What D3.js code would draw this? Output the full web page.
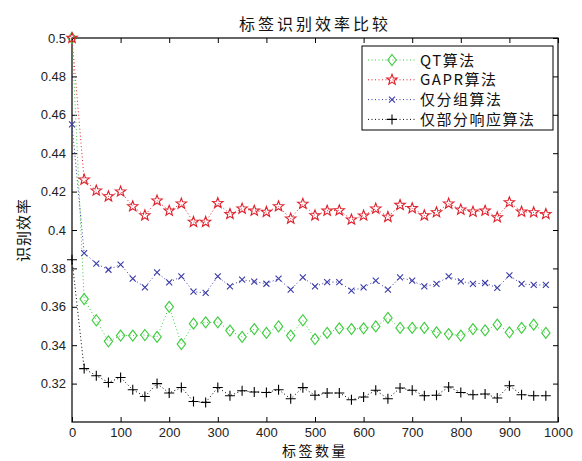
<!DOCTYPE html>
<html>
<head>
<meta charset="utf-8">
<script src="https://cdn.jsdelivr.net/npm/d3@7"></script>
<style>
  body { margin: 0; background: #fff; }
  text { font-family: "Liberation Sans", Arial, "Noto Sans CJK SC", sans-serif; }
  .cn { font-family: "Noto Sans CJK SC", sans-serif; }
</style>
</head>
<body>
<script>
// x positions (tag count)
var tagCounts = [0, 25, 50, 75, 100, 125, 150, 175, 200, 225, 250, 275, 300, 325, 350, 375, 400, 425, 450, 475,
                 500, 525, 550, 575, 600, 625, 650, 675, 700, 725, 750, 775, 800, 825, 850, 875, 900, 925, 950, 975];

var qtVals = [0.5, 0.364, 0.353, 0.342, 0.345, 0.345, 0.3453, 0.3443, 0.36, 0.3406, 0.3512, 0.3519, 0.3519, 0.3476, 0.3443, 0.3484, 0.3464, 0.3498, 0.345, 0.353,
              0.3432, 0.3464, 0.3488, 0.3484, 0.3488, 0.3498, 0.3542, 0.349, 0.349, 0.349, 0.3467, 0.3458, 0.345, 0.3484, 0.3477, 0.3507, 0.3467, 0.349, 0.3507, 0.3464];

var gaprVals = [0.5, 0.4262, 0.4205, 0.4175, 0.42, 0.4123, 0.4076, 0.4153, 0.41, 0.4137, 0.4042, 0.4042, 0.414, 0.4083, 0.4111, 0.41, 0.4094, 0.4123, 0.4059, 0.4136,
                0.4076, 0.41, 0.4102, 0.4054, 0.4075, 0.4111, 0.4068, 0.413, 0.4113, 0.4076, 0.4092, 0.4137, 0.4106, 0.4095, 0.41, 0.4066, 0.4144, 0.4095, 0.4092, 0.4083];

var groupVals = [0.455, 0.388, 0.3825, 0.3793, 0.382, 0.3747, 0.3701, 0.3779, 0.3727, 0.3758, 0.3679, 0.3672, 0.3758, 0.3706, 0.3741, 0.3731, 0.372, 0.3747, 0.3689, 0.3753,
                 0.3706, 0.3729, 0.3729, 0.3684, 0.3701, 0.3736, 0.3689, 0.3753, 0.3736, 0.3706, 0.3719, 0.3758, 0.3733, 0.3719, 0.3724, 0.3698, 0.3764, 0.3719, 0.3714, 0.3714];

var partialVals = [0.3845, 0.3278, 0.3241, 0.3206, 0.3232, 0.3168, 0.3133, 0.32, 0.3151, 0.318, 0.3107, 0.3102, 0.318, 0.3137, 0.3163, 0.3156, 0.3154, 0.3168, 0.3121, 0.3179,
                   0.3139, 0.3151, 0.3151, 0.3116, 0.313, 0.3165, 0.3121, 0.3177, 0.3165, 0.3137, 0.3139, 0.3182, 0.3154, 0.3142, 0.3146, 0.3125, 0.3189, 0.3142, 0.3137, 0.3137];

var seriesNames = ["QT算法", "GAPR算法", "仅分组算法", "仅部分响应算法"];
var seriesColors = ["#3ccc3c", "#e0202c", "#3a3aa8", "#000000"];
var seriesMarkers = ["diamond", "star", "cross", "plus"];
var xTicks = [0, 100, 200, 300, 400, 500, 600, 700, 800, 900, 1000];
var yTicks = [0.32, 0.34, 0.36, 0.38, 0.4, 0.42, 0.44, 0.46, 0.48, 0.5];

var W = 582, H = 461;
var margin = {left: 72, top: 38, right: 24, bottom: 39};
var pw = W - margin.left - margin.right, ph = H - margin.top - margin.bottom;

var svg = d3.select("body").append("svg").attr("width", W).attr("height", H);

var x = d3.scaleLinear().domain([0, 1000]).range([0, pw]);
var y = d3.scaleLinear().domain([0.3, 0.5]).range([ph, 0]);

var g = svg.append("g").attr("transform", "translate(" + margin.left + "," + margin.top + ")");

// marker paths
function markerPath(type) {
  if (type == "diamond") return "M0,-5.5L4.2,0L0,5.5L-4.2,0Z";
  if (type == "cross") return "M-3,-3L3,3M-3,3L3,-3";
  if (type == "plus") return "M-5,0L5,0M0,-5L0,5";
  // pentagram outline
  var pts = [];
  for (var i = 0; i < 10; i++) {
    var r = i % 2 == 0 ? 5.5 : 2.3;
    var a = -Math.PI / 2 + i * Math.PI / 5;
    pts.push([r * Math.cos(a), r * Math.sin(a)]);
  }
  return "M" + pts.map(function(p){ return p[0].toFixed(2) + "," + p[1].toFixed(2); }).join("L") + "Z";
}

// axes, MATLAB style: inward ticks on all four sides
var fmt = function(d){ return String(+d.toFixed(2)); };
g.append("g").attr("transform", "translate(0," + ph + ")")
  .call(d3.axisBottom(x).tickValues(xTicks).tickSizeInner(-5).tickSizeOuter(0).tickPadding(6).tickFormat(d3.format("d")))
  .call(function(a){ a.selectAll("text").attr("font-size", 13).attr("fill", "#222"); });
g.append("g")
  .call(d3.axisTop(x).tickValues(xTicks).tickSizeInner(-5).tickSizeOuter(0).tickFormat(""));
g.append("g")
  .call(d3.axisLeft(y).tickValues(yTicks).tickSizeInner(-5).tickSizeOuter(0).tickPadding(6).tickFormat(fmt))
  .call(function(a){ a.selectAll("text").attr("font-size", 13).attr("fill", "#222"); });
g.append("g").attr("transform", "translate(" + pw + ",0)")
  .call(d3.axisRight(y).tickValues(yTicks).tickSizeInner(-5).tickSizeOuter(0).tickFormat(""));
g.selectAll(".domain").remove();
g.append("rect").attr("width", pw).attr("height", ph)
  .attr("fill", "none").attr("stroke", "#000").attr("stroke-width", 1.2);

var allVals = [qtVals, gaprVals, groupVals, partialVals];
var line = d3.line().x(function(d){ return x(d[0]); }).y(function(d){ return y(d[1]); });

allVals.forEach(function(vals, k){
  var pts = tagCounts.map(function(t, i){ return [t, vals[i]]; });
  g.append("path").datum(pts).attr("d", line)
    .attr("fill", "none").attr("stroke", seriesColors[k])
    .attr("stroke-width", 1).attr("stroke-dasharray", "1,2.5");
  g.selectAll(".m" + k).data(pts).enter().append("path")
    .attr("class", "m" + k)
    .attr("transform", function(d){ return "translate(" + x(d[0]) + "," + y(d[1]) + ")"; })
    .attr("d", markerPath(seriesMarkers[k]))
    .attr("fill", "none").attr("stroke", seriesColors[k]).attr("stroke-width", 1.1);
});

// legend
var lg = svg.append("g").attr("transform", "translate(362,46)");
lg.append("rect").attr("width", 191).attr("height", 84)
  .attr("fill", "#fff").attr("stroke", "#000").attr("stroke-width", 1);
seriesNames.forEach(function(name, k){
  var ly = 14 + k * 19.8;
  lg.append("line").attr("x1", 6).attr("x2", 54).attr("y1", ly).attr("y2", ly)
    .attr("stroke", seriesColors[k]).attr("stroke-dasharray", "1,2.5");
  lg.append("path").attr("transform", "translate(30," + ly + ")")
    .attr("d", markerPath(seriesMarkers[k]))
    .attr("fill", "none").attr("stroke", seriesColors[k]).attr("stroke-width", 1.1);
  lg.append("text").attr("class", "cn").attr("x", 58).attr("y", ly + 5.5)
    .attr("font-size", 15).attr("letter-spacing", 1.5).attr("fill", "#111").text(name);
});

// title and labels
svg.append("text").attr("class", "cn").attr("x", margin.left + pw / 2).attr("y", 30)
  .attr("text-anchor", "middle").attr("font-size", 16).attr("letter-spacing", 3)
  .attr("fill", "#111").text("标签识别效率比较");
svg.append("text").attr("class", "cn").attr("x", margin.left + pw / 2).attr("y", 456)
  .attr("text-anchor", "middle").attr("font-size", 14).attr("letter-spacing", 2.5)
  .attr("fill", "#111").text("标签数量");
svg.append("text").attr("class", "cn")
  .attr("transform", "translate(29," + (margin.top + ph / 2) + ") rotate(-90)")
  .attr("text-anchor", "middle").attr("font-size", 15).attr("letter-spacing", 1)
  .attr("fill", "#111").text("识别效率");
</script>
</body>
</html>
